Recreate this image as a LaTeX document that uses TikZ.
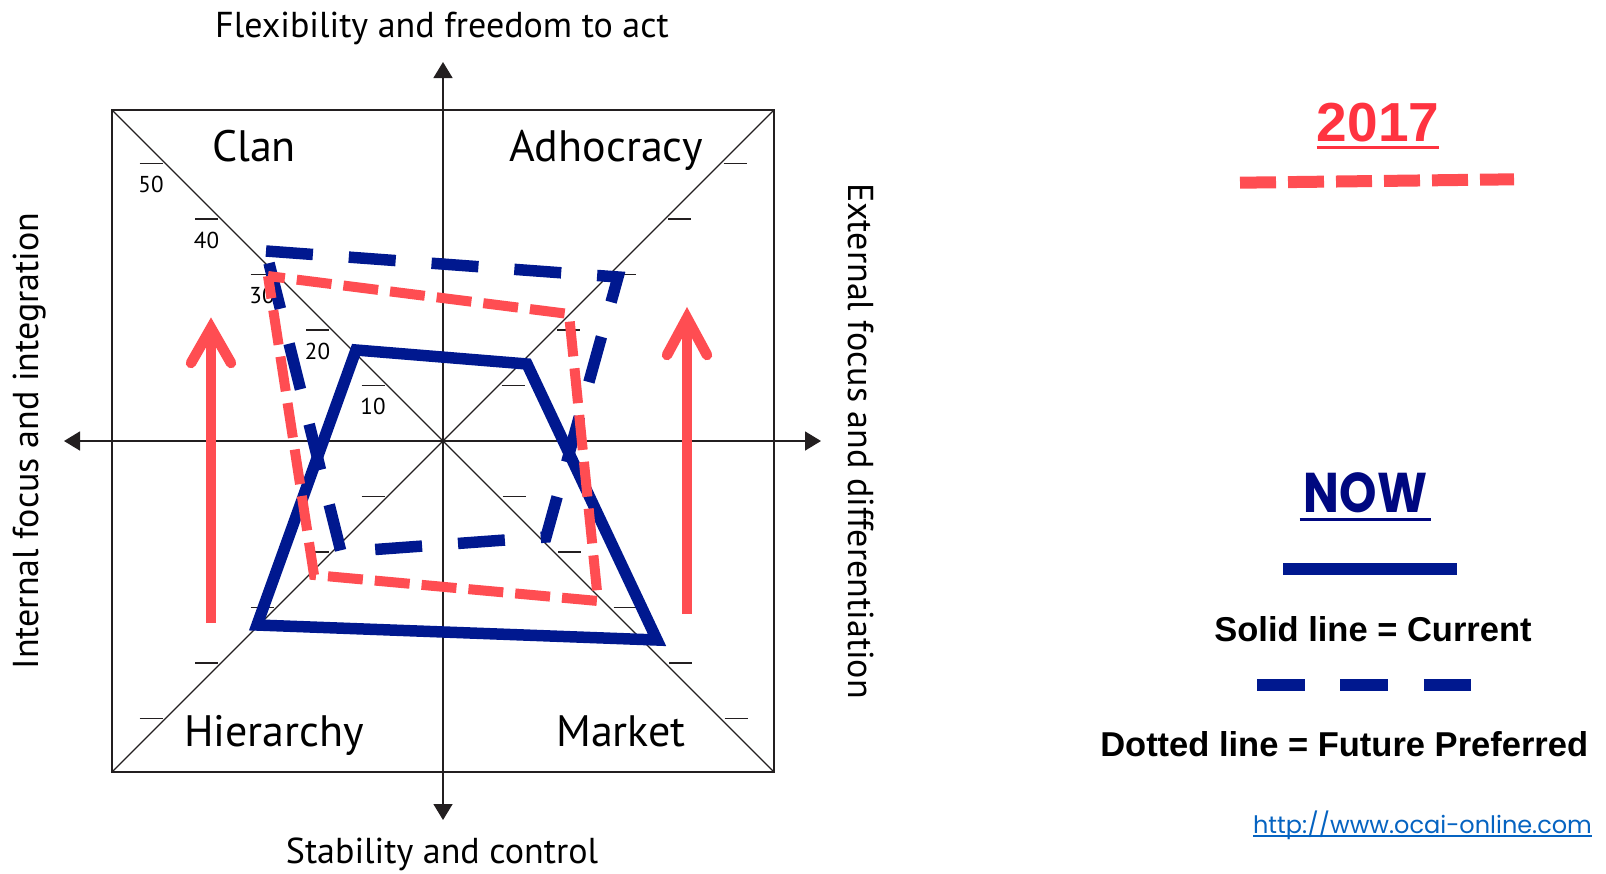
\documentclass[tikz,border=0pt]{standalone}
\usepackage{fontspec}
\usepackage{graphicx}
\usepackage{xcolor}
\usepackage{tikz}
\usetikzlibrary{arrows.meta}

\setmainfont{PT Sans}
\newfontfamily\arialfont{Liberation Sans}
\newfontfamily\gothfont{Poppins}

\definecolor{ocaiblue}{RGB}{0,24,143}
\definecolor{ocaired}{RGB}{255,77,82}
\definecolor{yearred}{RGB}{255,51,64}
\definecolor{nownavy}{RGB}{0,8,128}
\definecolor{linkblue}{RGB}{5,99,193}
\definecolor{framegray}{RGB}{35,31,32}

\tikzset{
  axisline/.style={draw=framegray, line width=1.6pt},
  tickmark/.style={draw=framegray, line width=1.4pt},
  current/.style={draw=ocaiblue, line width=11.5pt},
  preferred/.style={draw=ocaiblue, line width=11.5pt, dash pattern=on 47pt off 36pt},
  target/.style={draw=ocaired, line width=10pt, dash pattern=on 35pt off 12pt, dash phase=18pt},
  uparrow/.style={draw=ocaired, line width=10.5pt},
  quadlabel/.style={inner sep=0pt, anchor=base, font=\fontsize{44}{48}\selectfont},
  axislabel/.style={inner sep=0pt, anchor=base, font=\fontsize{36}{40}\selectfont},
  ticklabel/.style={inner sep=0pt, font=\fontsize{23}{26}\selectfont},
  legendtext/.style={inner sep=0pt, anchor=base, font=\arialfont\bfseries\fontsize{34.5}{38}\selectfont},
}

\begin{document}
\begin{tikzpicture}[x=1pt,y=-1pt]
        \useasboundingbox (0,0) rectangle (1606,873);
        \coordinate (c) at (443,441);

        % Frame and diagonals
        \draw[draw=framegray, line width=2.2pt] (112,110) rectangle (774,772);
        \draw[draw=framegray, line width=1.3pt] (112,110) -- (774,772);
        \draw[draw=framegray, line width=1.3pt] (112,772) -- (774,110);

        % Axes
        \draw[axisline, {Triangle[length=16pt,width=19pt]}-{Triangle[length=16pt,width=19pt]}] (443,62) -- (443,820);
        \draw[axisline, {Triangle[length=16pt,width=19pt]}-{Triangle[length=16pt,width=19pt]}] (64,441) -- (821,441);

        % Scale
        \foreach \k in {1,...,5} {
            \pgfmathsetmacro{\d}{55.5*\k}
            \draw[tickmark] ({443-\d-26},{441-\d}) -- ++(23,0);
            \draw[tickmark] ({443+\d+3},{441-\d}) -- ++(23,0);
            \draw[tickmark] ({443-\d-26},{441+\d}) -- ++(23,0);
            \draw[tickmark] ({443+\d+4},{441+\d}) -- ++(23,0);
            \node[ticklabel] (scale\k) at ({443-\d-14.5},{441-\d+21}) {\k0};
        }

        % Quadrants
        \node[quadlabel] (clan) at (254,161) {Clan};
        \node[quadlabel] (adhocracy) at (606,161) {Adhocracy};
        \node[quadlabel] (hierarchy) at (274,746) {Hierarchy};
        \node[quadlabel] (market) at (621,746) {Market};

        % Axis titles
        \node[axislabel] (flex) at (442,37) {Flexibility and freedom to act};
        \node[axislabel] (stab) at (442,863) {Stability and control};
        \node[axislabel, rotate=90] (internal) at (38,441) {Internal focus and integration};
        \node[axislabel, rotate=-90] (external) at (848,441) {External focus and differentiation};

        % Red arrows
        \coordinate (la0) at (211,623);
        \coordinate (la1) at (211,328);
        \coordinate (ra0) at (687,614);
        \coordinate (ra1) at (687,318);
        \draw[uparrow] (la0) -- (la1);
        \draw[uparrow, line cap=round] (la1) ++(-20,35) -- (la1) -- ++(20,35);
        \draw[uparrow] (ra0) -- (ra1);
        \draw[uparrow, line cap=round] (ra1) ++(-20,37) -- (ra1) -- ++(20,37);

        % Profiles
        \coordinate (pre1) at (266,251);
        \coordinate (pre2) at (618,277);
        \coordinate (pre3) at (546,537);
        \coordinate (pre4) at (341,552);
        \draw[preferred] (pre1) -- (pre2) -- (pre3) -- (pre4) -- cycle;

        \coordinate (cur1) at (356,350);
        \coordinate (cur2) at (527,364);
        \coordinate (cur3) at (657,640);
        \coordinate (cur4) at (257,625);
        \draw[current] (cur1) -- (cur2) -- (cur3) -- (cur4) -- cycle;

        \coordinate (tar1) at (268,276);
        \coordinate (tar2) at (569,314);
        \coordinate (tar3) at (598,601);
        \coordinate (tar4) at (314,575);
        \draw[target] (tar1) -- (tar2) -- (tar3) -- (tar4) -- cycle;

        % Legend
        \node[inner sep=0pt, anchor=base, text=yearred, font=\arialfont\bfseries\fontsize{55}{60}\selectfont] (year) at (1378,141.7) {2017};
        \draw[yearred, line width=3pt] ([yshift=-5.8pt]year.base west) -- ([yshift=-5.8pt]year.base east);
        \coordinate (key1a) at (1240,182.7);
        \coordinate (key1b) at (1514,179.3);
        \draw[ocaired, line width=12pt, dash pattern=on 36pt off 12pt] (key1a) -- (key1b);

        \node[inner sep=0pt, anchor=base, text=nownavy, font=\gothfont\bfseries\fontsize{56}{60}\selectfont] (now) at (1365.5,512.7) {\scalebox{0.85}[1]{NOW}};
        \draw[nownavy, line width=2.4pt] ([xshift=-4pt,yshift=-6.8pt]now.base west) -- ([xshift=4pt,yshift=-6.8pt]now.base east);

        \coordinate (key2a) at (1283,569);
        \coordinate (key2b) at (1457,569);
        \draw[ocaiblue, line width=12.3pt] (key2a) -- (key2b);
        \node[legendtext] (solid) at (1373,641.7) {Solid line = Current};

        \coordinate (key3a) at (1257,685);
        \coordinate (key3b) at (1471,685);
        \draw[ocaiblue, line width=11.7pt, dash pattern=on 47.7pt off 35.7pt] (key3a) -- (key3b);
        \node[legendtext] (dotted) at (1344.2,756.7) {Dotted line = Future Preferred};

        \node[inner sep=0pt, anchor=base, text=linkblue, font=\gothfont\fontsize{24}{28}\selectfont] (url) at (1422.5,833) {http://www.ocai-online.com};
        \draw[linkblue, line width=1.8pt] ([yshift=-3pt]url.base west) -- ([yshift=-3pt]url.base east);
\end{tikzpicture}
\end{document}
